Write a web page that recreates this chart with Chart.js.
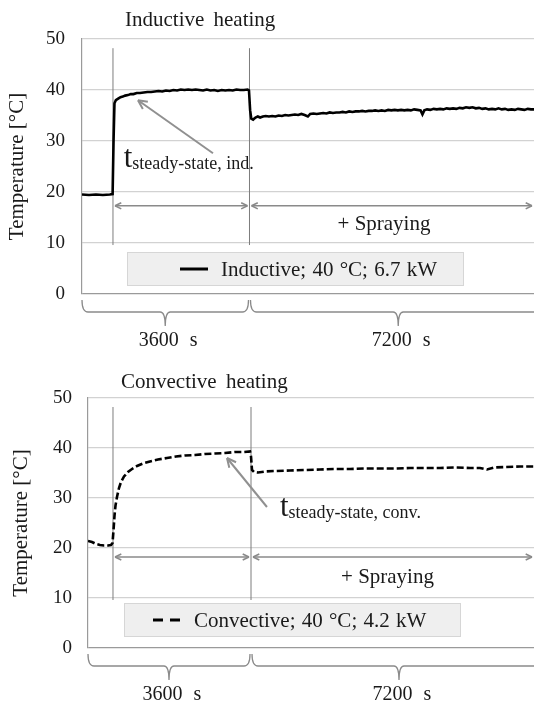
<!DOCTYPE html>
<html>
<head>
<meta charset="utf-8">
<script src="https://cdn.jsdelivr.net/npm/chart.js@4.4.0/dist/chart.umd.min.js"></script>
<style>
    html, body { margin: 0; padding: 0; background: #fff; }
    .panel { position: absolute; left: 0; width: 534px; }
    #p1 { top: 0; height: 352px; }
    #p2 { top: 352px; height: 353px; }
</style>
</head>
<body>
<div class="panel" id="p1"><canvas id="chartInd"></canvas></div>
<div class="panel" id="p2"><canvas id="chartConv"></canvas></div>
<script>
// values (time in s, temperature in °C)
const yTicks = [0, 10, 20, 30, 40, 50];
const phaseLabels = ['3600 s', '7200 s'];

const indTime = [0, 150, 300, 450, 600, 660, 680, 700, 730, 780, 830, 880, 930, 990, 1050, 1110, 1180, 1250,
    1330, 1410, 1490, 1570, 1650, 1730, 1810, 1890, 1970, 2050, 2130, 2210, 2290, 2370, 2450, 2530, 2610,
    2690, 2770, 2850, 2930, 3010, 3090, 3170, 3250, 3330, 3410, 3490, 3570, 3600, 3625, 3650, 3690, 3740,
    3790, 3840, 3900, 3960, 4030, 4100, 4170, 4240, 4310, 4380, 4450, 4520, 4590, 4660, 4730, 4800, 4870,
    4920, 4990, 5060, 5130, 5200, 5270, 5340, 5410, 5480, 5550, 5620, 5690, 5760, 5830, 5900, 5970, 6040,
    6110, 6180, 6250, 6320, 6390, 6460, 6530, 6600, 6670, 6740, 6810, 6880, 6950, 7020, 7090, 7160, 7230,
    7300, 7340, 7380, 7440, 7510, 7580, 7650, 7720, 7790, 7860, 7930, 8000, 8070, 8140, 8210, 8280, 8350,
    8420, 8490, 8560, 8630, 8700, 8770, 8840, 8910, 8980, 9050, 9120, 9190, 9260, 9330, 9400, 9470, 9540,
    9610, 9680, 9745];
const indTemp = [19.5, 19.4, 19.5, 19.4, 19.5, 19.6, 30.0, 37.4, 38.0, 38.3, 38.6, 38.7, 38.9, 39.0, 39.2, 39.2,
    39.4, 39.4, 39.5, 39.6, 39.6, 39.7, 39.8, 39.7, 39.9, 39.8, 40.0, 39.9, 40.1, 40.0, 40.1, 40.0, 40.1,
    40.0, 39.9, 40.1, 39.9, 40.0, 39.8, 40.0, 39.9, 40.0, 39.9, 40.1, 40.0, 40.0, 40.1, 39.9, 36.0, 34.4,
    34.2, 34.6, 34.8, 34.6, 34.8, 34.9, 34.8, 34.9, 34.8, 35.0, 34.9, 35.1, 35.0, 35.1, 35.2, 35.1, 35.3,
    35.1, 34.8, 35.3, 35.4, 35.3, 35.4, 35.5, 35.4, 35.6, 35.5, 35.6, 35.6, 35.7, 35.6, 35.8, 35.7, 35.8,
    35.8, 35.9, 35.8, 35.9, 35.9, 36.0, 35.9, 36.0, 35.9, 36.1, 36.0, 36.1, 36.0, 36.1, 36.0, 36.1, 36.0,
    36.2, 36.1, 36.0, 35.2, 36.0, 36.2, 36.1, 36.3, 36.2, 36.3, 36.2, 36.4, 36.3, 36.4, 36.3, 36.5, 36.4,
    36.6, 36.5, 36.6, 36.4, 36.5, 36.3, 36.4, 36.2, 36.3, 36.2, 36.4, 36.2, 36.3, 36.1, 36.2, 36.1, 36.3,
    36.2, 36.1, 36.3, 36.2, 36.2];

const convTime = [0, 89, 179, 268, 358, 447, 514, 548, 570, 593, 615, 648, 693, 738, 805, 894, 984, 1096, 1230,
    1386, 1565, 1766, 1968, 2169, 2393, 2616, 2840, 3063, 3287, 3488, 3622, 3645, 3667, 3712, 3801, 3958,
    4181, 4517, 4852, 5188, 5523, 5858, 6194, 6529, 6865, 7200, 7535, 7871, 8206, 8542, 8765, 8922, 9078,
    9324, 9660, 9973];
const convTemp = [21.4, 21.2, 20.8, 20.6, 20.5, 20.5, 20.6, 21.0, 23.5, 26.5, 28.5, 30.2, 32.0, 33.2, 34.3,
    35.2, 35.8, 36.4, 36.9, 37.3, 37.7, 38.0, 38.3, 38.5, 38.6, 38.8, 38.9, 39.0, 39.2, 39.2, 39.3, 38.3,
    35.6, 35.2, 35.1, 35.3, 35.4, 35.5, 35.6, 35.7, 35.8, 35.8, 35.9, 35.9, 35.9, 36.0, 36.0, 36.0, 36.1,
    36.0, 36.0, 35.7, 36.1, 36.2, 36.3, 36.3];

// start of heating and start of spraying, end of the recording
const indMarkers = [668, 3611];
const convMarkers = [559, 3645];
const indEnd = 9745;
const convEnd = 9973;

const FONT = "'Liberation Serif', 'Times New Roman', serif";
const INK = '#1a1a1a';
const GREY = '#8a8a8a';

function arrowHead(ctx, x, y, angle, size) {
    ctx.beginPath();
    ctx.moveTo(x, y);
    ctx.lineTo(x - size * Math.cos(angle - 0.45), y - size * Math.sin(angle - 0.45));
    ctx.moveTo(x, y);
    ctx.lineTo(x - size * Math.cos(angle + 0.45), y - size * Math.sin(angle + 0.45));
    ctx.stroke();
}

function brace(ctx, xl, xr, yTop, yMid, yTip) {
    const xm = (xl + xr) / 2;
    ctx.beginPath();
    ctx.moveTo(xl, yTop);
    ctx.quadraticCurveTo(xl, yMid, xl + 6, yMid);
    ctx.lineTo(xm - 5, yMid);
    ctx.quadraticCurveTo(xm, yMid, xm, yTip);
    ctx.quadraticCurveTo(xm, yMid, xm + 5, yMid);
    ctx.lineTo(xr - 6, yMid);
    ctx.quadraticCurveTo(xr, yMid, xr, yTop);
    ctx.stroke();
}

const decorPlugin = {
    id: 'decor',
    afterDatasetsDraw(chart, args, o) {
        const ctx = chart.ctx;
        const a = chart.chartArea;
        const xs = chart.scales.x, ys = chart.scales.y;
        const px = v => xs.getPixelForValue(v);
        const py = v => ys.getPixelForValue(v);
        ctx.save();

        // heading
        ctx.fillStyle = INK;
        ctx.font = '21px ' + FONT;
        ctx.wordSpacing = '4px';
        ctx.textAlign = 'left';
        ctx.textBaseline = 'alphabetic';
        ctx.fillText(o.title, o.titleX, o.titleY);
        ctx.wordSpacing = '0px';

        // double arrows for both phases
        ctx.strokeStyle = GREY;
        ctx.lineWidth = 1.5;
        o.spans.forEach(s => {
            const x1 = px(s[0]) + 2, x2 = px(s[1]) - 2, y = py(o.spanY);
            ctx.beginPath();
            ctx.moveTo(x1, y);
            ctx.lineTo(x2, y);
            ctx.stroke();
            arrowHead(ctx, x1, y, Math.PI, 7);
            arrowHead(ctx, x2, y, 0, 7);
        });
        ctx.fillStyle = INK;
        ctx.font = '21px ' + FONT;
        ctx.textAlign = 'center';
        ctx.textBaseline = 'middle';
        ctx.fillText('+ Spraying', px(o.sprayAt[0]), py(o.sprayAt[1]));

        // pointer to steady state
        const fx = px(o.pointer[0]), fy = py(o.pointer[1]);
        const tx = px(o.pointer[2]), ty = py(o.pointer[3]);
        ctx.strokeStyle = '#909090';
        ctx.lineWidth = 2;
        ctx.beginPath();
        ctx.moveTo(fx, fy);
        ctx.lineTo(tx, ty);
        ctx.stroke();
        arrowHead(ctx, tx, ty, Math.atan2(ty - fy, tx - fx), 10);

        // t_steady-state label
        ctx.fillStyle = INK;
        ctx.textAlign = 'left';
        ctx.textBaseline = 'alphabetic';
        const lx = px(o.labelAt[0]), ly = py(o.labelAt[1]);
        ctx.font = '31px ' + FONT;
        ctx.fillText('t', lx, ly);
        const tw = ctx.measureText('t').width;
        ctx.font = '18px ' + FONT;
        ctx.fillText(o.sub, lx + tw, ly + 2);

        // legend box
        const bx = a.left + o.boxX, by = a.bottom - o.boxDY;
        ctx.fillStyle = '#efefef';
        ctx.fillRect(bx, by, 337, 34);
        ctx.strokeStyle = '#d6d6d6';
        ctx.lineWidth = 1;
        ctx.strokeRect(bx + 0.5, by + 0.5, 336, 33);
        const ds = chart.data.datasets[0];
        ctx.strokeStyle = '#000';
        ctx.lineWidth = 3;
        ctx.setLineDash(ds.borderDash ? [10, 7] : []);
        ctx.beginPath();
        ctx.moveTo(bx + o.sampleX, by + 17);
        ctx.lineTo(bx + o.sampleX + 28, by + 17);
        ctx.stroke();
        ctx.setLineDash([]);
        ctx.fillStyle = INK;
        ctx.font = '21px ' + FONT;
        ctx.wordSpacing = '1px';
        ctx.textBaseline = 'middle';
        ctx.fillText(ds.label, bx + o.sampleX + 41, by + 18);

        // braces with phase durations
        ctx.strokeStyle = GREY;
        ctx.lineWidth = 1.3;
        const edges = [0, o.markers[1], o.end];
        ctx.font = '20px ' + FONT;
        ctx.wordSpacing = '6px';
        ctx.textAlign = 'center';
        for (let i = 0; i < 2; i++) {
            const xl = px(edges[i]) + (i ? 1 : 0), xr = px(edges[i + 1]) - (i ? 0 : 1);
            brace(ctx, xl, i ? xr + 12 : xr, a.bottom + 6, a.bottom + 18, a.bottom + 32);
            ctx.fillStyle = INK;
            ctx.fillText(phaseLabels[i], (xl + (i ? xr + 12 : xr)) / 2 + 3, a.bottom + 47);
        }
        ctx.restore();
    }
};

function markerSets(times) {
    return times.map(t => ({
        data: [{x: t, y: 9.6}, {x: t, y: 48.2}],
        borderColor: '#7d7d7d',
        borderWidth: 1,
        pointRadius: 0
    }));
}

function makeChart(id, opt) {
    const series = opt.time.map((t, i) => ({x: t, y: opt.temp[i]}));
    return new Chart(document.getElementById(id), {
        type: 'line',
        data: {
            datasets: [{
                label: opt.label,
                data: series,
                borderColor: '#000',
                borderWidth: 2.6,
                borderDash: opt.dash,
                pointRadius: 0,
                tension: 0
            }].concat(markerSets(opt.markers))
        },
        options: {
            responsive: true,
            maintainAspectRatio: false,
            animation: false,
            layout: {padding: {top: opt.top, bottom: opt.bottom, left: 0, right: 0}},
            plugins: {
                legend: {display: false},
                tooltip: {enabled: false},
                decor: opt.decor
            },
            scales: {
                x: {type: 'linear', min: 0, max: opt.end, display: false},
                y: {
                    type: 'linear',
                    min: 0,
                    max: 50,
                    afterBuildTicks: s => { s.ticks = yTicks.map(v => ({value: v})); },
                    afterFit: s => { s.width = opt.axisW; },
                    grid: {
                        drawTicks: false,
                        color: c => c.tick && c.tick.value === 0 ? '#9a9a9a' : '#d2d2d2',
                        lineWidth: 1.2
                    },
                    border: {color: '#9a9a9a', width: 1.2},
                    ticks: {padding: opt.tickPad, color: INK, font: {family: FONT, size: 19}},
                    title: {
                        display: true,
                        text: 'Temperature [°C]',
                        color: INK,
                        font: {family: FONT, size: 21},
                        padding: {top: opt.titlePad, bottom: 0}
                    }
                }
            }
        },
        plugins: [decorPlugin]
    });
}

makeChart('chartInd', {
    time: indTime, temp: indTemp, label: 'Inductive; 40 °C; 6.7 kW', dash: undefined,
    markers: indMarkers, end: indEnd, top: 39, bottom: 58, axisW: 82, tickPad: 17, titlePad: 5,
    decor: {
        title: 'Inductive heating', titleX: 125, titleY: 26,
        markers: indMarkers, end: indEnd,
        spans: [[indMarkers[0], indMarkers[1]], [indMarkers[1], indEnd]], spanY: 17.3,
        sprayAt: [6511, 13.7],
        pointer: [2824, 27.6, 1207, 38.0],
        labelAt: [900, 24.9], sub: 'steady-state, ind.',
        boxX: 45, boxDY: 42, sampleX: 53
    }
});

makeChart('chartConv', {
    time: convTime, temp: convTemp, label: 'Convective; 40 °C; 4.2 kW', dash: [7, 3],
    markers: convMarkers, end: convEnd, top: 46, bottom: 57, axisW: 88, tickPad: 16, titlePad: 9,
    decor: {
        title: 'Convective heating', titleX: 121, titleY: 36,
        markers: convMarkers, end: convEnd,
        spans: [[convMarkers[0], convMarkers[1]], [convMarkers[1], convEnd]], spanY: 18.2,
        sprayAt: [6697, 14.2],
        pointer: [4002, 28.2, 3108, 38.0],
        labelAt: [4293, 26.4], sub: 'steady-state, conv.',
        boxX: 36, boxDY: 45, sampleX: 29
    }
});
</script>
</body>
</html>
